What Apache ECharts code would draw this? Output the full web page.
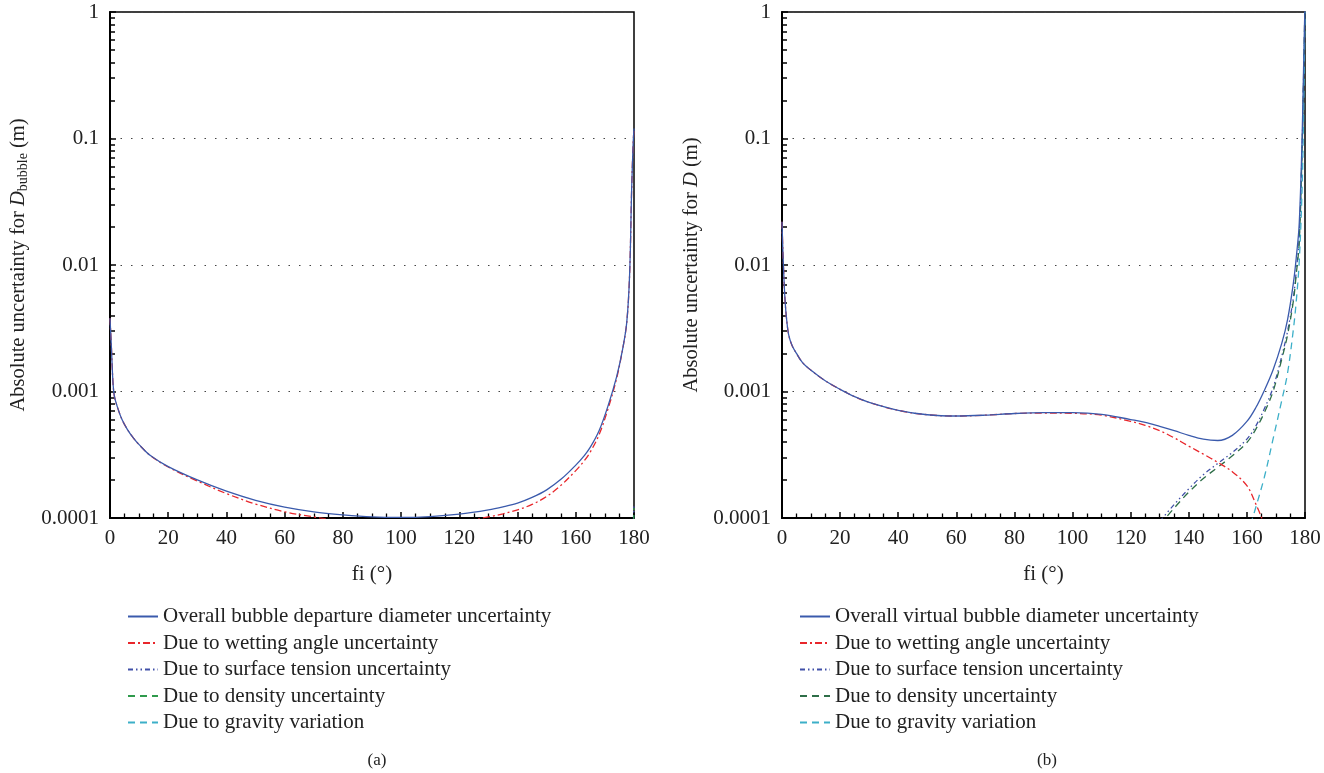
<!DOCTYPE html>
<html>
<head>
<meta charset="utf-8">
<script src="https://cdn.jsdelivr.net/npm/echarts@6/dist/echarts.min.js"></script>
<style>
  body{margin:0;background:#fff;}
  #wrap{position:relative;width:1324px;height:773px;}
  #chartA{position:absolute;left:0;top:0;width:662px;height:773px;}
  #chartB{position:absolute;left:662px;top:0;width:662px;height:773px;}
</style>
</head>
<body>
<div id="wrap"><div id="chartA"></div><div id="chartB"></div></div>
<script>
// (a) bubble departure diameter
var fiA = [0, 0.5, 1, 1.5, 2.5, 4, 6, 8, 10, 14, 20, 30, 40, 50, 60, 70, 80, 90, 100, 110, 120, 130, 135, 140, 145, 150, 155, 160, 163, 165, 168, 171, 174, 176, 177.5, 178.5, 179.2, 179.7, 180];
var overallA = [0.0038, 0.0022, 0.0012, 0.00092, 0.00076, 0.00061, 0.0005, 0.00043, 0.00038, 0.00031, 0.000255, 0.0002, 0.000163, 0.000138, 0.000122, 0.000112, 0.000106, 0.000102, 0.000101, 0.0001026, 0.0001072, 0.0001159, 0.0001225, 0.0001312, 0.0001455, 0.000167, 0.000203, 0.000262, 0.000313, 0.000363, 0.00049, 0.00076, 0.0013, 0.0021, 0.0035, 0.0085, 0.04, 0.09, 0.12];
var wettingA = [0.0038, 0.0022, 0.0012, 0.00092, 0.00076, 0.00061, 0.0005, 0.00043, 0.00038, 0.00031, 0.000253, 0.000196, 0.000156, 0.000129, 0.000112, 0.000102, 0.000094, 0.00009, 0.000088, 0.000089, 0.000093, 0.000102, 0.000108, 0.000116, 0.000128, 0.000148, 0.000182, 0.000237, 0.000285, 0.000333, 0.000455, 0.00072, 0.00126, 0.0021, 0.0035, 0.0085, 0.04, 0.09, 0.12];
var fiTailA = [179.6, 180];
var surfaceA = [0.00007, 0.00013];
var densityA = [0.00006, 0.00012];
var gravityA = [0.00003, 0.00006];

// (b) virtual bubble diameter
var fiB = [0, 0.3, 0.6, 1, 1.5, 2.3, 3.5, 5, 7, 10, 15, 20, 25, 30, 40, 50, 60, 70, 80, 90, 100, 110, 120, 125, 130, 135, 140, 145, 150, 155, 160, 163, 166, 169, 172, 174, 176, 177, 178, 179, 179.5, 180];
var overallB = [0.022, 0.013, 0.0086, 0.0055, 0.0039, 0.0028, 0.0023, 0.002, 0.0017, 0.00147, 0.00121, 0.00104, 0.00091, 0.00082, 0.00071, 0.000655, 0.00064, 0.00065, 0.00067, 0.00068, 0.00068, 0.00066, 0.0006, 0.00057, 0.00053, 0.00049, 0.00045, 0.00042, 0.00041, 0.00045, 0.00058, 0.00074, 0.00102, 0.00148, 0.0024, 0.0037, 0.0072, 0.0115, 0.021, 0.1, 0.35, 1.2];
var wettingB = [0.022, 0.013, 0.0086, 0.0055, 0.0039, 0.0028, 0.0023, 0.002, 0.0017, 0.00147, 0.00121, 0.00104, 0.00091, 0.00082, 0.00071, 0.000655, 0.00064, 0.00065, 0.00067, 0.000675, 0.000672, 0.00065, 0.00058, 0.00054, 0.00049, 0.00043, 0.00037, 0.00032, 0.000275, 0.000232, 0.00018, 0.00013, 0.000088, 0.00005, null, null, null, null, null, null, null, null];
var fiTailB = [130, 135, 140, 145, 150, 155, 160, 163, 166, 169, 172, 174, 176, 177, 178, 179, 179.5, 180];
var surfaceB = [0.000094, 0.000128, 0.00017, 0.00022, 0.00027, 0.00033, 0.00042, 0.00053, 0.00073, 0.00107, 0.0019, 0.003, 0.0055, 0.009, 0.016, 0.085, 0.28, 0.9];
var densityB = [0.000088, 0.00012, 0.00016, 0.000205, 0.000252, 0.00031, 0.000395, 0.0005, 0.00068, 0.001, 0.0018, 0.0028, 0.0052, 0.0085, 0.015, 0.08, 0.3, 1.2];
var gravityB = [null, null, null, null, null, 0.00002, 0.00007, 0.00012, 0.00021, 0.00042, 0.00085, 0.0014, 0.0031, 0.0052, 0.0105, 0.04, 0.15, 1.0];

var FONT = 'Liberation Serif';
var minorTicks = [];
[0.0001, 0.001, 0.01, 0.1].forEach(function (d) {
  for (var k = 2; k <= 9; k++) minorTicks.push(+(d * k).toPrecision(2));
});

function pairs(xs, ys) {
  return xs.map(function (x, i) { return [x, ys[i]]; });
}

function line(name, xs, ys, color, type, z) {
  return {
    name: name, type: 'line', data: pairs(xs, ys),
    symbol: 'none', showSymbol: false, smooth: 0.35, clip: true, z: z || 2,
    lineStyle: {color: color, width: 1.3, type: type},
    itemStyle: {color: color}
  };
}

function buildOption(p) {
  var names = [p.overallName, 'Due to wetting angle uncertainty', 'Due to surface tension uncertainty', 'Due to density uncertainty', 'Due to gravity variation'];
  return {
    animation: false,
    textStyle: {fontFamily: FONT},
    title: {
      text: p.tag, left: p.tagX, top: 747, textAlign: 'center',
      textStyle: {fontFamily: FONT, fontSize: 17, fontWeight: 'normal', color: '#222'}
    },
    grid: {
      left: p.left, top: 12, width: p.width, height: 506,
      show: true, borderColor: '#000', borderWidth: 1.5, outerBoundsMode: 'none'
    },
    legend: {
      orient: 'vertical', left: p.legendLeft, top: 601,
      itemWidth: 30, itemHeight: 14, itemGap: 5.5, selectedMode: false,
      itemStyle: {opacity: 0},
      textStyle: {fontFamily: FONT, fontSize: 21, color: '#222'},
      data: names
    },
    xAxis: {
      type: 'value', min: 0, max: 180, interval: 20,
      name: 'fi (°)', nameLocation: 'middle', nameGap: 46,
      nameTextStyle: {fontFamily: FONT, fontSize: 21, color: '#222'},
      axisLine: {lineStyle: {color: '#000', width: 2}},
      axisTick: {inside: true, length: 6, lineStyle: {color: '#000', width: 1.5}},
      minorTick: {show: true, splitNumber: 4, length: 4.5, lineStyle: {color: '#000', width: 1.3}},
      axisLabel: {margin: 10, fontFamily: FONT, fontSize: 21, color: '#222'},
      splitLine: {show: false}
    },
    yAxis: [{
      type: 'log', logBase: 10, min: 0.0001, max: 1,
      name: p.yName, nameLocation: 'middle', nameGap: 80,
      nameTextStyle: {
        rich: {
          a: {fontFamily: FONT, fontSize: 20.5, color: '#222'},
          i: {fontFamily: FONT, fontSize: 20.5, fontStyle: 'italic', color: '#222'},
          s: {fontFamily: FONT, fontSize: 14, color: '#222', padding: [9, 0, 0, 0]}
        }
      },
      axisLine: {lineStyle: {color: '#000', width: 2}},
      axisTick: {inside: true, length: 6, lineStyle: {color: '#000', width: 1.5}},
      axisLabel: {
        margin: 11, fontFamily: FONT, fontSize: 21, color: '#222',
        formatter: function (v) { return String(parseFloat(v.toPrecision(3))); }
      },
      splitLine: {show: true, lineStyle: {color: '#444', width: 1, type: [1.5, 9]}}
    }, {
      type: 'log', logBase: 10, min: 0.0001, max: 1, position: 'left',
      axisLine: {show: false}, axisLabel: {show: false}, splitLine: {show: false},
      axisTick: {show: true, inside: true, length: 5, customValues: minorTicks, lineStyle: {color: '#000', width: 1.5}}
    }],
    series: [
      line(names[0], p.fi, p.overall, '#3a5aac', 'solid', 4),
      line(names[1], p.fi, p.wetting, '#e8262b', [7, 3, 2, 3], 3),
      line(names[2], p.fiTail, p.surface, '#4050a8', [5, 3, 1.5, 3, 1.5, 3], 2),
      line(names[3], p.fiTail, p.density, p.densityColor, [7, 5], 2),
      line(names[4], p.fiTail, p.gravity, '#3cafc8', [7, 5], 2)
    ]
  };
}

var chartA = echarts.init(document.getElementById('chartA'));
chartA.setOption(buildOption({
  tag: '(a)', tagX: 372, left: 110, width: 524, legendLeft: 122,
  overallName: 'Overall bubble departure diameter uncertainty',
  yName: '{a|Absolute uncertainty for }{i|D}{s|bubble}{a| (m)}',
  fi: fiA, overall: overallA, wetting: wettingA,
  fiTail: fiTailA, surface: surfaceA, density: densityA, gravity: gravityA,
  densityColor: '#2f9a4c'
}));

var chartB = echarts.init(document.getElementById('chartB'));
chartB.setOption(buildOption({
  tag: '(b)', tagX: 380, left: 120, width: 523, legendLeft: 132,
  overallName: 'Overall virtual bubble diameter uncertainty',
  yName: '{a|Absolute uncertainty for }{i|D}{a| (m)}',
  fi: fiB, overall: overallB, wetting: wettingB,
  fiTail: fiTailB, surface: surfaceB, density: densityB, gravity: gravityB,
  densityColor: '#2e6e48'
}));
</script>
</body>
</html>
